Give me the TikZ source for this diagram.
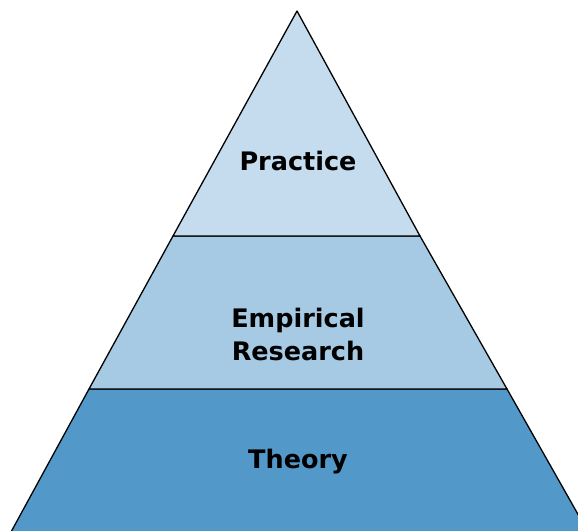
\documentclass[tikz,border=0pt]{standalone}
\usepackage{fontspec}
\setmainfont{DejaVu Sans}
\usepackage{tikz}
\definecolor{toplayer}{HTML}{C4DCEE}
\definecolor{midlayer}{HTML}{A6CAE3}
\definecolor{baselayer}{HTML}{5299CA}

\begin{document}
\begin{tikzpicture}[x=1pt,y=-1pt,
    layer/.style={draw=black,line width=1.3pt,line join=round},
    label/.style={font=\bfseries\fontsize{25.5}{33}\selectfont,align=center,text=black}]

    \useasboundingbox (0,0) rectangle (578,530);

    % Pyramid corners
    \coordinate (apex) at (297,11);
    \coordinate (l1) at (173,236);
    \coordinate (r1) at (420,236);
    \coordinate (l2) at (89,389);
    \coordinate (r2) at (507,389);
    \coordinate (l3) at (11,532);
    \coordinate (r3) at (588,532);

    % Layers
    \begin{scope}
    \clip (0,0) rectangle (578,530);
    \filldraw[layer,fill=baselayer] (l2) -- (r2) -- (r3) -- (l3) -- cycle;
    \filldraw[layer,fill=midlayer] (l1) -- (r1) -- (r2) -- (l2) -- cycle;
    \filldraw[layer,fill=toplayer] (apex) -- (r1) -- (l1) -- cycle;
    \end{scope}

    % Labels
    \node[label] (practice) at (298,161) {Practice};
    \node[label] (empirical) at (298,334) {Empirical\\Research};
    \node[label] (theory) at (298,462) {Theory};
\end{tikzpicture}
\end{document}
